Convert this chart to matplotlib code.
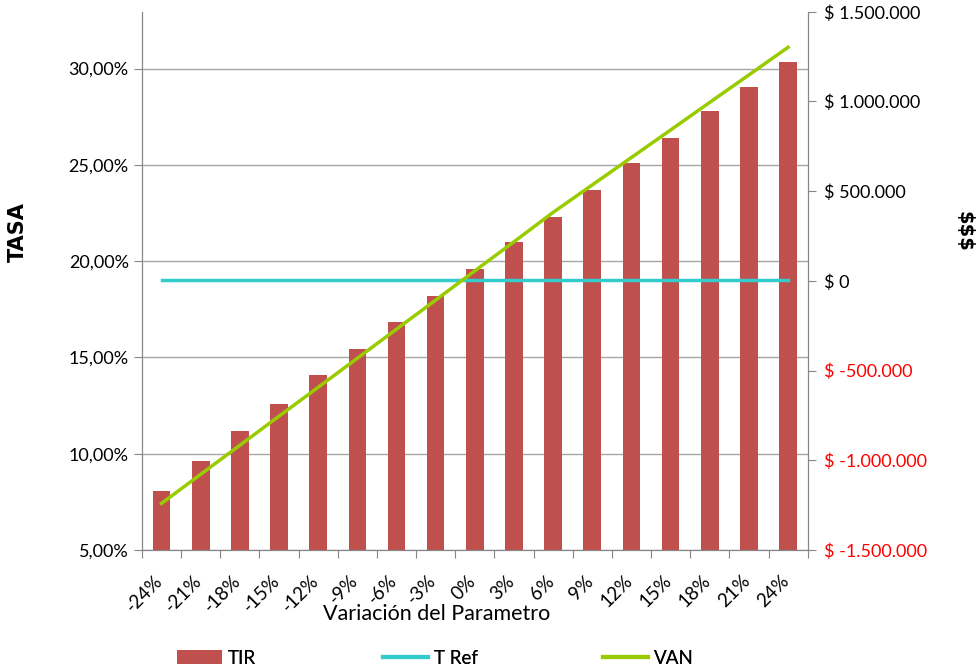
import matplotlib
matplotlib.use("Agg")
import matplotlib.pyplot as plt
import matplotlib.transforms as mtransforms
from matplotlib.ticker import FuncFormatter
from matplotlib.lines import Line2D
from matplotlib.patches import Patch

# Data
variaciones = ["-24%", "-21%", "-18%", "-15%", "-12%", "-9%", "-6%", "-3%", "0%",
               "3%", "6%", "9%", "12%", "15%", "18%", "21%", "24%"]
tir = [8.06, 9.62, 11.18, 12.58, 14.09, 15.44, 16.84, 18.19, 19.59,
       20.99, 22.29, 23.69, 25.09, 26.39, 27.79, 29.04, 30.34]
t_ref = [19.0] * len(variaciones)
van = [-1240000, -1078000, -916000, -754000, -593000, -431000, -269000, -107000, 56000,
       218000, 382000, 535000, 688000, 841000, 995000, 1148000, 1302000]

left_ticks = [5, 10, 15, 20, 25, 30]
right_ticks = [-1500000, -1000000, -500000, 0, 500000, 1000000, 1500000]

bar_color = "#C0504D"
ref_color = "#33CCCC"
van_color = "#99CC00"
axis_gray = "#868686"
grid_gray = "#A6A6A6"

plt.rcParams["font.family"] = ["Lato", "DejaVu Sans"]
plt.rcParams["font.size"] = 13

fig = plt.figure(figsize=(9.79, 6.72), dpi=100)
ax = fig.add_axes([0.145, 0.1815, 0.680, 0.801])
ax2 = ax.twinx()

x = list(range(len(variaciones)))

ax.bar(x, tir, width=0.45, color=bar_color, zorder=2)
ax.plot(x, t_ref, color=ref_color, linewidth=2.5, zorder=3)
ax2.plot(x, van, color=van_color, linewidth=2.5, zorder=3)

ax.set_xlim(-0.5, len(variaciones) - 0.5)
ax.set_ylim(5, 32.95)
ax2.set_ylim(-1500000, 1500000)

# left axis
ax.set_yticks(left_ticks)
ax.yaxis.set_major_formatter(FuncFormatter(lambda v, p: f"{v:.2f}".replace(".", ",") + "%"))
ax.grid(axis="y", color=grid_gray, linewidth=1, zorder=0)
ax.set_axisbelow(True)

# x axis: ticks between categories, labels at centres
ax.set_xticks([i - 0.5 for i in x] + [x[-1] + 0.5])
ax.set_xticklabels([])
ax.set_xticks(x, minor=True)
ax.set_xticklabels(variaciones, minor=True, rotation=45, ha="right", va="top",
                   rotation_mode="anchor", fontsize=13.5)
ax.tick_params(axis="x", which="minor", length=0, pad=16)
ax.tick_params(axis="x", which="major", length=6, color=axis_gray, direction="out")
ax.tick_params(axis="y", length=6, color=axis_gray, direction="out")
shift = mtransforms.ScaledTranslation(-8 / 100, 0, fig.dpi_scale_trans)
for lbl in ax.get_xticklabels(minor=True):
    lbl.set_transform(lbl.get_transform() + shift)

# right axis
ax2.set_yticks(right_ticks)


def fmt_money(v, p):
    s = f"{abs(int(round(v))):,}".replace(",", ".")
    return f"$ -{s}" if v < 0 else f"$ {s}"


ax2.yaxis.set_major_formatter(FuncFormatter(fmt_money))
ax2.tick_params(axis="y", length=6, color=axis_gray, direction="out", pad=6)
for lbl, v in zip(ax2.get_yticklabels(), right_ticks):
    lbl.set_color("red" if v < 0 else "black")

for a in (ax, ax2):
    a.spines["top"].set_visible(False)
    a.spines["left"].set_color(axis_gray)
    a.spines["right"].set_color(axis_gray)
    a.spines["bottom"].set_color(axis_gray)

ax.set_xlabel("Variación del Parametro", fontsize=15.5)
ax.xaxis.label.set_va("center")
ax.xaxis.set_label_coords(0.443, -0.119)
fig.text(0.018, 0.655, "TASA", rotation=90, fontsize=15, fontweight="bold",
         ha="center", va="center", family="DejaVu Sans")
fig.text(0.985, 0.655, "$$$", rotation=270, fontsize=14, fontweight="bold",
         ha="center", va="center", family="DejaVu Sans")

# legend entries placed one by one, like the spreadsheet legend
legend_items = [
    (Patch(facecolor=bar_color, label="TIR"), 177),
    (Line2D([0], [0], color=ref_color, linewidth=3, label="T Ref"), 383),
    (Line2D([0], [0], color=van_color, linewidth=3, label="VAN"), 603),
]
for handle, xpix in legend_items:
    leg = fig.legend(handles=[handle], loc="center left",
                     bbox_to_anchor=(xpix / 979, 1 - 658 / 672),
                     frameon=False, handlelength=2.4, handletextpad=0.3,
                     borderpad=0, borderaxespad=0, fontsize=13.5)
    fig.add_artist(leg)

fig.savefig("out.png", dpi=100)
